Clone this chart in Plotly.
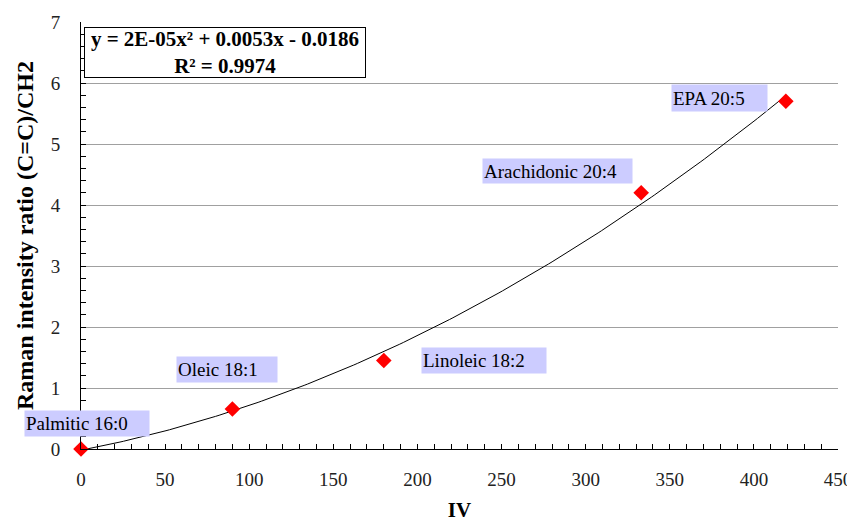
import numpy as np
import plotly.graph_objects as go

# Data
names = ["Palmitic 16:0", "Oleic 18:1", "Linoleic 18:2", "Arachidonic 20:4", "EPA 20:5"]
iv = [0, 90, 180, 333, 419]
ratio = [0.0, 0.655, 1.45, 4.20, 5.70]
x_ticks = [0, 50, 100, 150, 200, 250, 300, 350, 400, 450]
y_ticks = [0, 1, 2, 3, 4, 5, 6, 7]
equation = "<b>y = 2E-05x² + 0.0053x - 0.0186</b><br><b>R² = 0.9974</b>"

# label offsets from points (pixels) and box sizes
label_shift = [(6, 26), (-5, 40), (100, 0), (-84, 22), (-66, 3)]
label_size = [(124, 25), (100, 25), (124, 25), (149, 24), (95, 26)]

FONT = "Liberation Serif"

# page body has an 8px margin -> figure drawn at (8, 8)
OFF = 8
W, H = 855 - OFF, 522 - OFF
ml, mt = 81 - OFF, 22 - OFF
pw, ph = 757, 427
mr, mb = W - ml - pw, H - mt - ph


def px_x(p):
    return (p - OFF - ml) / pw


def px_y(p):
    return 1 - (p - OFF - mt) / ph


coef = np.polyfit(iv, ratio, 2)
xf = np.linspace(min(iv), max(iv), 200)
yf = np.polyval(coef, xf)

fig = go.Figure()
fig.add_trace(go.Scatter(x=xf, y=yf, mode="lines",
                         line=dict(color="black", width=1), hoverinfo="skip",
                         showlegend=False))
fig.add_trace(go.Scatter(x=iv, y=ratio, mode="markers",
                         marker=dict(symbol="diamond", color="#ff0000", size=12),
                         cliponaxis=False, showlegend=False))

for n, xv, yv, (dx, dy), (w, h) in zip(names, iv, ratio, label_shift, label_size):
    fig.add_annotation(x=xv, y=yv, xref="x", yref="y", text=n, showarrow=False,
                       xshift=dx, yshift=dy, width=w - 2, height=h - 2,
                       align="left", valign="middle", bgcolor="#ccccff",
                       borderpad=1, font=dict(family=FONT, size=19, color="black"))

fig.add_annotation(x=px_x(84), y=px_y(27), xref="paper", yref="paper", text=equation,
                   showarrow=False, xanchor="left", yanchor="top",
                   width=278, height=47, align="center", bgcolor="white",
                   bordercolor="black", borderwidth=1, borderpad=1,
                   font=dict(family=FONT, size=21, color="black"))

fig.update_layout(
    width=W, height=H,
    margin=dict(l=ml, r=mr, t=mt, b=mb, autoexpand=False),
    plot_bgcolor="white", paper_bgcolor="white",
    font=dict(family=FONT, size=19, color="#222"),
    xaxis=dict(range=[0, 450], tickvals=x_ticks, ticks="inside", ticklen=5,
               tickcolor="black", showline=True, linecolor="black", linewidth=1,
               showgrid=False, zeroline=False, ticklabelstandoff=13, automargin=False,
               ticklabeloverflow="allow",
               minor=dict(dtick=10, ticks="inside", ticklen=5, tickcolor="black"),
               title=dict(text="<b>IV</b>", font=dict(family=FONT, size=21, color="black"),
                          standoff=25)),
    yaxis=dict(range=[0, 7], tickvals=y_ticks, ticks="inside", ticklen=5,
               tickcolor="black", showline=True, linecolor="black", linewidth=1,
               showgrid=True, gridcolor="#a0a0a0", gridwidth=1, zeroline=False,
               ticklabelstandoff=16, automargin=False,
               minor=dict(dtick=0.2, ticks="inside", ticklen=5, tickcolor="black"),
               title=dict(text="<b>Raman intensity ratio (C=C)/CH2</b>",
                          font=dict(family=FONT, size=24, color="black"), standoff=10)),
)

fig.write_html("out.html")
